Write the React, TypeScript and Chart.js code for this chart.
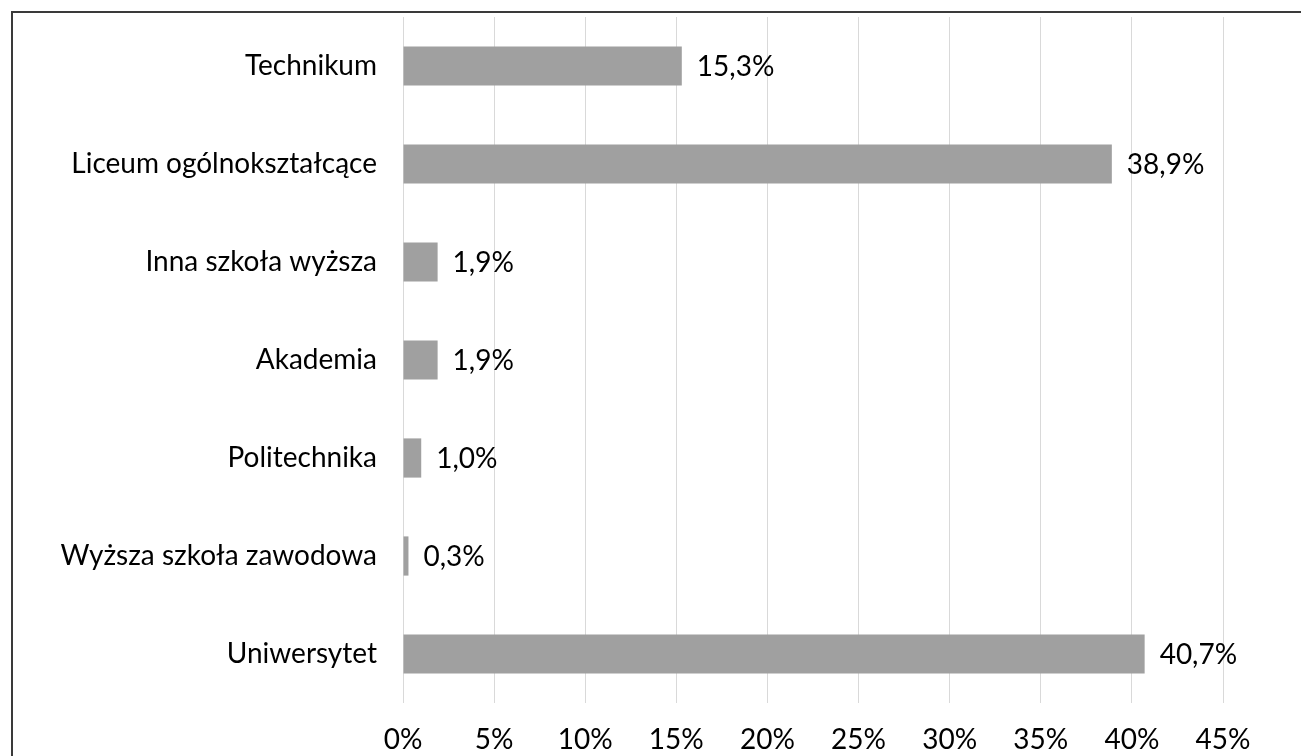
import React, { useEffect, useRef } from "react";
import { Chart, registerables } from "chart.js";

Chart.register(...registerables);

const categories = [
  "Technikum",
  "Liceum ogólnokształcące",
  "Inna szkoła wyższa",
  "Akademia",
  "Politechnika",
  "Wyższa szkoła zawodowa",
  "Uniwersytet",
];
const values = [15.3, 38.9, 1.9, 1.9, 1.0, 0.3, 40.7];
const xMin = 0;
const xMax = 45;
const xStep = 5;

const FONT = "Lato, 'Open Sans', sans-serif";
const FONT_SIZE = 28;

const valueLabels = {
  id: "valueLabels",
  afterDatasetsDraw(chart: any) {
    const ctx = chart.ctx;
    const meta = chart.getDatasetMeta(0);
    ctx.save();
    ctx.font = `${FONT_SIZE}px ${FONT}`;
    ctx.fillStyle = "#000000";
    ctx.textAlign = "left";
    ctx.textBaseline = "middle";
    meta.data.forEach((bar: any, i: number) => {
      const v = chart.data.datasets[0].data[i] as number;
      const txt = v.toFixed(1).replace(".", ",") + "%";
      ctx.fillText(txt, bar.x + 15, bar.y + 1);
    });
    ctx.restore();
  },
};

export default function App() {
  const ref = useRef<HTMLCanvasElement | null>(null);

  useEffect(() => {
    document.body.style.margin = "0";
    document.body.style.overflow = "hidden";
    const canvas = ref.current;
    if (!canvas) return;
    const chart = new Chart(canvas, {
      type: "bar",
      data: {
        labels: categories,
        datasets: [
          {
            data: values,
            backgroundColor: "#a0a0a0",
            borderWidth: 0,
            barPercentage: 0.4,
            categoryPercentage: 1,
          },
        ],
      },
      options: {
        indexAxis: "y",
        animation: false,
        responsive: false,
        maintainAspectRatio: false,
        layout: { padding: { top: 17, right: 78, left: 0, bottom: 0 } },
        plugins: {
          legend: { display: false },
          tooltip: { enabled: false },
          title: { display: false },
        },
        scales: {
          x: {
            min: xMin,
            max: xMax,
            ticks: {
              stepSize: xStep,
              padding: 20,
              color: "#000000",
              font: { family: FONT, size: FONT_SIZE },
              callback: (v: any) => `${v}%`,
            },
            grid: { color: "#d9d9d9", lineWidth: 1, drawTicks: false },
            border: { display: false },
            afterFit: (s: any) => {
              s.height = 53;
              s.paddingLeft = 0;
              s.paddingRight = 0;
            },
          },
          y: {
            ticks: {
              padding: 26,
              color: "#000000",
              font: { family: FONT, size: FONT_SIZE },
            },
            grid: { display: false, drawTicks: false },
            border: { display: false },
            afterFit: (s: any) => {
              s.width = 403;
              s.paddingTop = 0;
              s.paddingBottom = 0;
            },
          },
        },
      },
      plugins: [valueLabels],
    });
    return () => chart.destroy();
  }, []);

  return (
    <div
      style={{
        position: "fixed",
        left: 0,
        top: 0,
        width: 1301,
        height: 756,
        overflow: "hidden",
        background: "#ffffff",
      }}
    >
      <div
        style={{
          position: "absolute",
          left: 11,
          top: 11,
          width: 1400,
          height: 900,
          border: "2px solid #3a3a3a",
          boxSizing: "border-box",
        }}
      />
      <canvas
        ref={ref}
        width={1301}
        height={756}
        style={{ position: "absolute", left: 0, top: 0, width: 1301, height: 756 }}
      />
    </div>
  );
}
